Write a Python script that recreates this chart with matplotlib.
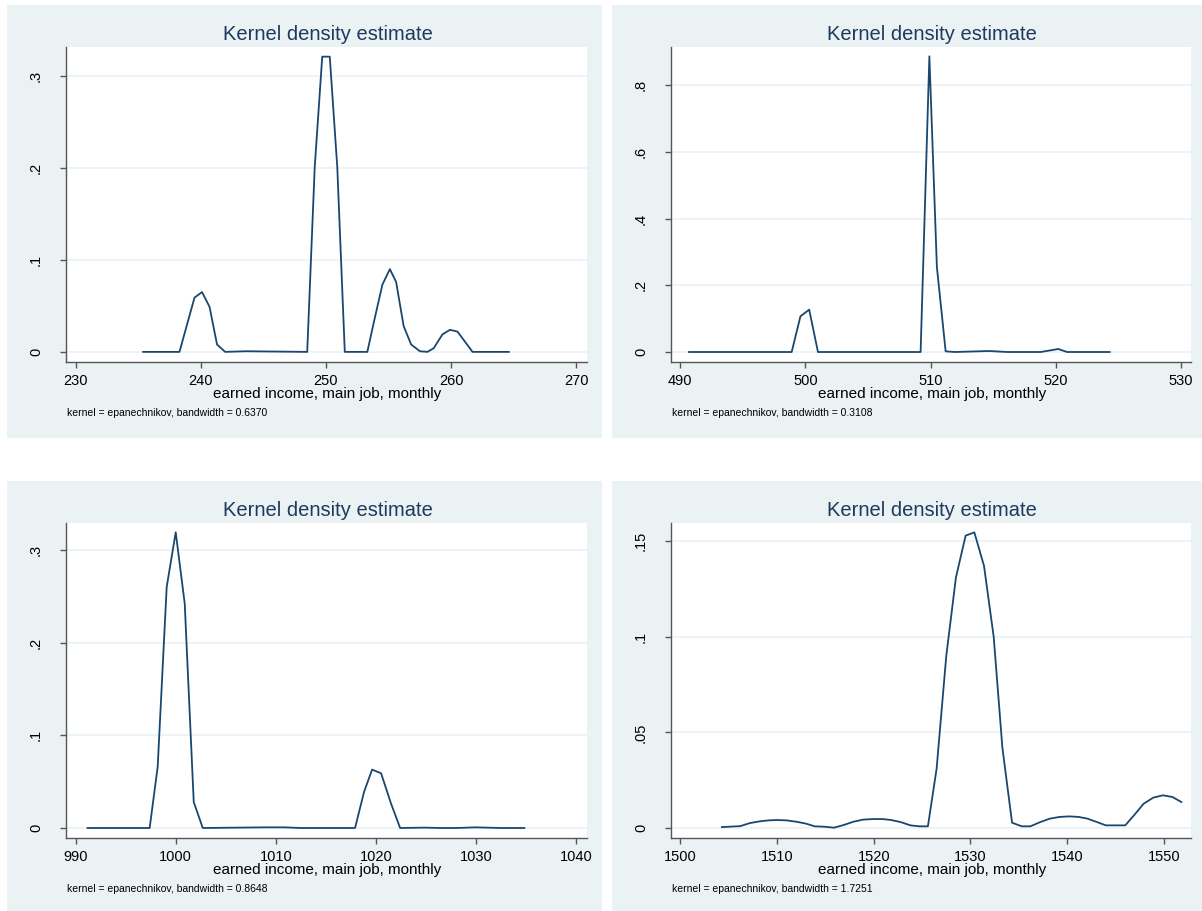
import matplotlib
matplotlib.use('Agg')
import matplotlib.pyplot as plt
from matplotlib.patches import Rectangle

plt.rcParams['font.family'] = ['Liberation Sans', 'DejaVu Sans']

# ---- data (x = income, y = density) ----
x_250 = [235.4, 238.3, 239.5, 240.1, 240.7, 241.3, 241.95, 243.6, 248.5, 249.1, 249.7,
         250.3, 250.9, 251.5, 253.3, 253.8, 254.5, 255.1, 255.6, 256.2, 256.8, 257.5,
         258.1, 258.6, 259.3, 259.9, 260.5, 261.1, 261.7, 264.6]
y_250 = [0, 0, 0.059, 0.065, 0.049, 0.008, 0, 0.0007, 0, 0.201, 0.321,
         0.321, 0.201, 0, 0, 0.031, 0.073, 0.090, 0.076, 0.028, 0.008, 0.0007,
         0, 0.004, 0.019, 0.024, 0.022, 0.011, 0, 0]

x_510 = [490.7, 498.9, 499.6, 500.3, 501.0, 509.2, 509.9, 510.5, 511.2, 511.9,
         514.7, 516.1, 518.8, 520.2, 520.9, 524.3]
y_510 = [0, 0, 0.107, 0.127, 0, 0, 0.887, 0.255, 0.002, 0,
         0.003, 0, 0, 0.009, 0, 0]

x_1000 = [991.2, 997.4, 998.2, 999.1, 1000.0, 1000.9, 1001.8, 1002.7, 1009.0, 1010.8,
          1012.5, 1017.9, 1018.8, 1019.6, 1020.5, 1021.5, 1022.4, 1024.9, 1026.3,
          1028.0, 1030.0, 1032.4, 1034.8]
y_1000 = [0, 0, 0.066, 0.260, 0.319, 0.242, 0.028, 0, 0.0007, 0.0007,
          0, 0, 0.039, 0.063, 0.059, 0.026, 0, 0.0004, 0,
          0, 0.0007, 0, 0]

x_1530 = [1504.3, 1506.2, 1507.2, 1508.2, 1509.1, 1510.0, 1511.0, 1512.0, 1513.0, 1513.9,
          1514.9, 1515.9, 1516.9, 1517.9, 1518.9, 1519.9, 1520.9, 1521.8, 1522.8, 1523.8,
          1524.7, 1525.6, 1526.5, 1527.5, 1528.5, 1529.5, 1530.4, 1531.4, 1532.4, 1533.3,
          1534.3, 1535.3, 1536.2, 1537.2, 1538.2, 1539.2, 1540.2, 1541.2, 1542.1, 1543.1,
          1544.0, 1545.0, 1546.0, 1547.0, 1547.9, 1548.9, 1549.9, 1550.9, 1551.8]
y_1530 = [0.0005, 0.001, 0.0026, 0.0035, 0.004, 0.0042, 0.004, 0.0033, 0.0023, 0.0009,
          0.0007, 0.0002, 0.0016, 0.0033, 0.0044, 0.0047, 0.0047, 0.0042, 0.0031, 0.0014,
          0.0009, 0.0009, 0.031, 0.090, 0.131, 0.1528, 0.1545, 0.137, 0.100, 0.042,
          0.0028, 0.0009, 0.0009, 0.0031, 0.0049, 0.0058, 0.0061, 0.0058, 0.0049, 0.0031,
          0.0014, 0.0014, 0.0014, 0.0072, 0.0127, 0.0159, 0.0171, 0.0162, 0.0136]

xticks_250 = [230, 240, 250, 260, 270]
yticks_250 = [0, 0.1, 0.2, 0.3]
ylabels_250 = ['0', '.1', '.2', '.3']
xticks_510 = [490, 500, 510, 520, 530]
yticks_510 = [0, 0.2, 0.4, 0.6, 0.8]
ylabels_510 = ['0', '.2', '.4', '.6', '.8']
xticks_1000 = [990, 1000, 1010, 1020, 1030, 1040]
yticks_1000 = [0, 0.1, 0.2, 0.3]
ylabels_1000 = ['0', '.1', '.2', '.3']
xticks_1530 = [1500, 1510, 1520, 1530, 1540, 1550]
yticks_1530 = [0, 0.05, 0.1, 0.15]
ylabels_1530 = ['0', '.05', '.1', '.15']

bandwidths = ['0.6370', '0.3108', '0.8648', '1.7251']

W, H = 1202, 911
BG = '#EAF2F3'
NAVY = '#1A476F'
TITLE_C = '#1E3A5F'

fig = plt.figure(figsize=(W / 100, H / 100), dpi=100)
fig.patch.set_facecolor('white')


def fx(px):
    return px / W


def fy(py):
    return 1 - py / H


panels = [
    # panel box (l, t, r, b), axes box (l, t, r, b), data, ticks, limits
    ((7, 5, 602, 438), (66, 47, 587, 362), x_250, y_250, xticks_250, yticks_250, ylabels_250,
     (229.24, 270.84), (-0.011, 0.3315), bandwidths[0]),
    ((612, 5, 1202, 438), (671, 47, 1191, 362), x_510, y_510, xticks_510, yticks_510, ylabels_510,
     (489.26, 530.8), (-0.03, 0.915), bandwidths[1]),
    ((7, 481, 602, 911), (66, 523, 587, 838), x_1000, y_1000, xticks_1000, yticks_1000, ylabels_1000,
     (989.05, 1041.05), (-0.0108, 0.329), bandwidths[2]),
    ((612, 481, 1202, 911), (671, 523, 1191, 838), x_1530, y_1530, xticks_1530, yticks_1530, ylabels_1530,
     (1499.04, 1552.8), (-0.0052, 0.1594), bandwidths[3]),
]

for pbox, abox, xs, ys, xt, yt, ytl, xl, yl, bw in panels:
    pl, pt, pr, pb = pbox
    fig.patches.append(Rectangle((fx(pl), fy(pb)), fx(pr - pl), (pb - pt) / H,
                                 transform=fig.transFigure, facecolor=BG,
                                 edgecolor='none', zorder=-10))
    al, at, ar, ab = abox
    ax = fig.add_axes([fx(al), fy(ab), fx(ar - al), (ab - at) / H], zorder=5)
    ax.set_facecolor('white')
    ax.plot(xs, ys, color=NAVY, lw=1.3, zorder=3)
    ax.set_xlim(*xl)
    ax.set_ylim(*yl)
    ax.set_xticks(xt)
    ax.set_yticks(yt)
    ax.set_yticklabels(ytl, rotation=90, va='center')
    for v in yt:
        ax.axhline(v, color=BG, lw=1.2, zorder=1)
    for s in ['top', 'right']:
        ax.spines[s].set_visible(False)
    for s in ['left', 'bottom']:
        ax.spines[s].set_color('#555555')
        ax.spines[s].set_linewidth(1.0)
    ax.tick_params(axis='both', colors='#555555', labelcolor='black',
                   length=4.5, width=1.0, labelsize=10.5)
    ax.tick_params(axis='y', pad=12)
    ax.tick_params(axis='x', pad=4)

    cx = (al + ar) / 2 + 1
    fig.text(fx(cx), fy(at - 13), 'Kernel density estimate', ha='center', va='center',
             fontsize=14.5, color=TITLE_C)
    fig.text(fx(cx), fy(ab + 32), 'earned income, main job, monthly', ha='center',
             va='center', fontsize=11)
    fig.text(fx(al + 1), fy(ab + 51), 'kernel = epanechnikov, bandwidth = ' + bw,
             ha='left', va='center', fontsize=7.5,
             family=['Liberation Sans Narrow', 'Liberation Sans', 'DejaVu Sans'])

fig.savefig('out.png', dpi=100, facecolor='white')
